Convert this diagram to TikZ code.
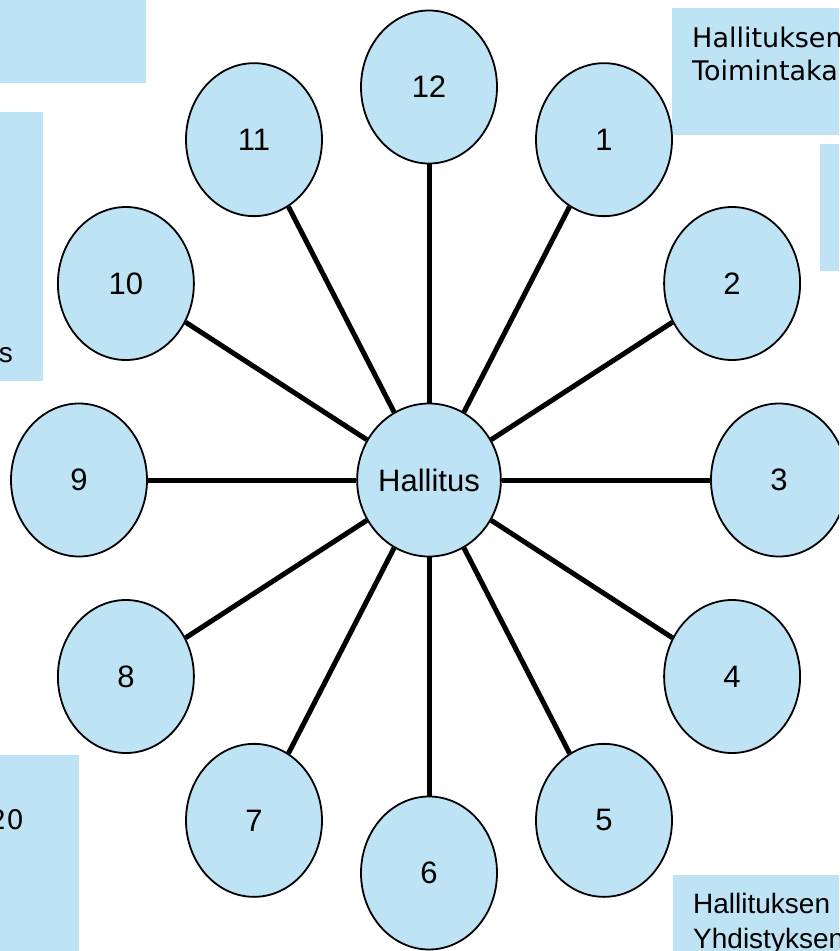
\documentclass[tikz,border=0pt]{standalone}
\usepackage{fontspec}
\setmainfont{Liberation Sans}
\newfontfamily\slidefont{DejaVu Sans}
\usetikzlibrary{shapes.geometric}
\definecolor{paleblue}{RGB}{190,227,245}

\begin{document}
\begin{tikzpicture}[x=1pt,y=-1pt,
  bubble/.style={ellipse,draw=black,line width=1.8pt,fill=paleblue,
    minimum width=136pt,minimum height=153pt,inner sep=0pt,
    font=\fontsize{31}{37}\selectfont},
  spoke/.style={line width=5pt},
  notebox/.style={fill=paleblue},
  notetext/.style={inner sep=0pt,font=\fontsize{28}{34}\selectfont},
  slidetext/.style={inner sep=0pt,font=\slidefont\fontsize{27}{33}\selectfont}]
\useasboundingbox (0,0) rectangle (839,951);
\clip (0,0) rectangle (839,951);

\fill[notebox] (0,0) rectangle (146,83);
\fill[notebox] (0,112) rectangle (43,381);
\fill[notebox] (0,755) rectangle (79,951);
\fill[notebox] (672,8) rectangle (839,135);
\fill[notebox] (820,144) rectangle (839,271);
\fill[notebox] (673,875) rectangle (839,951);

\node[notetext,anchor=base east] (lefts) at (13,362) {s};
\node[slidetext,anchor=base east] (year) at (24,829) {20};
\node[slidetext,anchor=base west] (tr1) at (692,47) {Hallituksen};
\node[slidetext,anchor=base west] (tr2) at (692,80) {Toimintaka};
\node[notetext,anchor=base west] (br1) at (693,913) {Hallituksen};
\node[notetext,anchor=base west] (br2) at (693,948) {Yhdistyksen};

\node[bubble] (hub) at (429,480) {Hallitus};
\foreach \k in {1,...,12}
  \node[bubble] (n\k) at ({429+350*sin(30*\k)},{480-393*cos(30*\k)}) {\k};
\foreach \k in {1,...,12}
  \draw[spoke] (hub) -- (n\k);
\end{tikzpicture}
\end{document}
